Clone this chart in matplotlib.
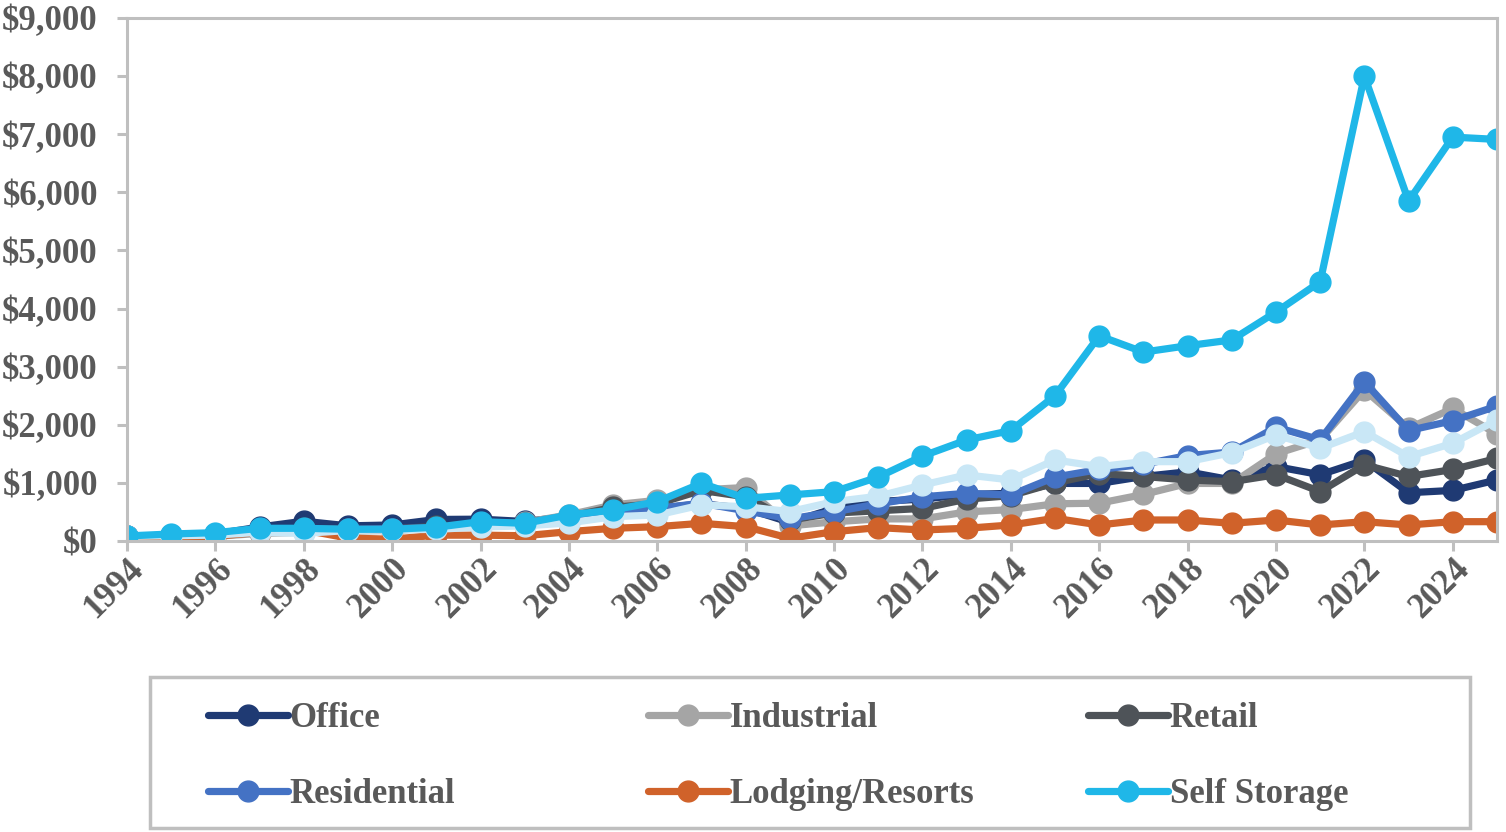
import numpy as np
import matplotlib.pyplot as plt
from matplotlib.lines import Line2D
from matplotlib.patches import Rectangle
from matplotlib.ticker import FuncFormatter, MultipleLocator

# Data (values in dollars)
years = list(range(1994, 2026))

office = [80, 100, 120, 240, 340, 260, 275, 370, 375, 335, 420, 520, 560, 640, 560, 320,
          560, 680, 720, 800, 820, 990, 990, 1110, 1190, 1050, 1280, 1140, 1390, 830, 870, 1050]
industrial = [50, 60, 80, 130, 150, 170, 180, 220, 270, 320, 450, 620, 700, 880, 920, 260,
              330, 380, 380, 500, 540, 640, 650, 800, 990, 990, 1500, 1740, 2600, 1940, 2280, 1840]
retail = [80, 90, 110, 170, 220, 200, 210, 250, 300, 310, 420, 580, 640, 870, 760, 360,
          480, 520, 560, 720, 780, 1000, 1160, 1110, 1050, 1020, 1140, 850, 1310, 1110, 1230, 1420]
residential = [80, 100, 120, 180, 200, 200, 210, 230, 290, 300, 400, 480, 560, 650, 520, 380,
               500, 640, 760, 820, 790, 1100, 1230, 1320, 1470, 1530, 1960, 1740, 2740, 1900, 2070, 2320]
lodging = [60, 50, 80, 150, 190, 50, 30, 100, 100, 90, 160, 218, 246, 304, 246, 46,
           160, 230, 189, 218, 275, 390, 275, 361, 361, 304, 361, 275, 332, 275, 332, 332]
other = [80, 90, 100, 150, 130, 180, 190, 200, 240, 260, 310, 418, 447, 620, 590, 505,
         677, 770, 964, 1136, 1050, 1394, 1279, 1365, 1365, 1520, 1824, 1595, 1881, 1451, 1681, 2082]
self_storage = [86, 120, 143, 218, 218, 201, 201, 236, 332, 304, 447, 533, 677, 993, 734, 792,
                849, 1100, 1460, 1738, 1900, 2500, 3530, 3250, 3360, 3460, 3940, 4460, 8000, 5850, 6950, 6910]

series = [
    ("Office", office, "#1F3A73"),
    ("Industrial", industrial, "#A5A5A5"),
    ("Retail", retail, "#4E5358"),
    ("Residential", residential, "#4472C4"),
    ("Lodging/Resorts", lodging, "#D0622A"),
    (None, other, "#C9E7F6"),          # unlabelled series, not in the legend
    ("Self Storage", self_storage, "#1FB7E8"),
]

TEXT = "#595959"
AXIS = "#BFBFBF"
LW, MS = 5.2, 15
plt.rcParams["font.family"] = ["Liberation Serif", "DejaVu Serif"]
plt.rcParams["font.weight"] = "bold"

fig = plt.figure(figsize=(15.06, 8.32), dpi=100)
ax = fig.add_axes([0.0843, 0.3498, 0.9097, 0.6286])

handles = {}
for name, vals, col in series:
    ln, = ax.plot(years, vals, color=col, lw=LW, marker="o", ms=MS,
                  mec=col, mfc=col, solid_capstyle="round")
    if name:
        handles[name] = ln

ax.set_xlim(1994, 2025)
ax.set_ylim(0, 9000)
ax.yaxis.set_major_locator(MultipleLocator(1000))
ax.xaxis.set_major_locator(MultipleLocator(2))
ax.yaxis.set_major_formatter(FuncFormatter(lambda v, p: f"${v:,.0f}"))

for s in ax.spines.values():
    s.set_color(AXIS)
    s.set_linewidth(2.2)
ax.tick_params(axis="both", colors=AXIS, length=7, width=2.2, labelcolor=TEXT, labelsize=25)
ax.tick_params(axis="y", pad=14)
ax.tick_params(axis="x", pad=1)
for lab in ax.get_xticklabels():
    lab.set_rotation(45)
    lab.set_ha("right")
    lab.set_rotation_mode("anchor")
    lab.set_fontweight("bold")
for lab in ax.get_yticklabels():
    lab.set_fontweight("bold")

# legend frame plus three columns laid out like the reference
fig.patches.append(Rectangle((150 / 1506, 4 / 832), 1320 / 1506, 151 / 832,
                             transform=fig.transFigure, fill=False,
                             edgecolor=AXIS, lw=2.5))
columns = [("Office", "Residential"), ("Industrial", "Lodging/Resorts"), ("Retail", "Self Storage")]
col_x = [208, 648, 1088]
for names, x in zip(columns, col_x):
    hs = [handles[n] for n in names]
    lg = fig.legend(hs, names, loc="upper left",
                    bbox_to_anchor=(x / 1506, 1 - 702 / 832),
                    frameon=False, handlelength=2.3, handletextpad=0.05,
                    labelspacing=1.25, borderpad=0, borderaxespad=0,
                    prop={"family": "Liberation Serif", "weight": "bold", "size": 25})
    for t in lg.get_texts():
        t.set_color(TEXT)

fig.savefig("out.png", dpi=100)
